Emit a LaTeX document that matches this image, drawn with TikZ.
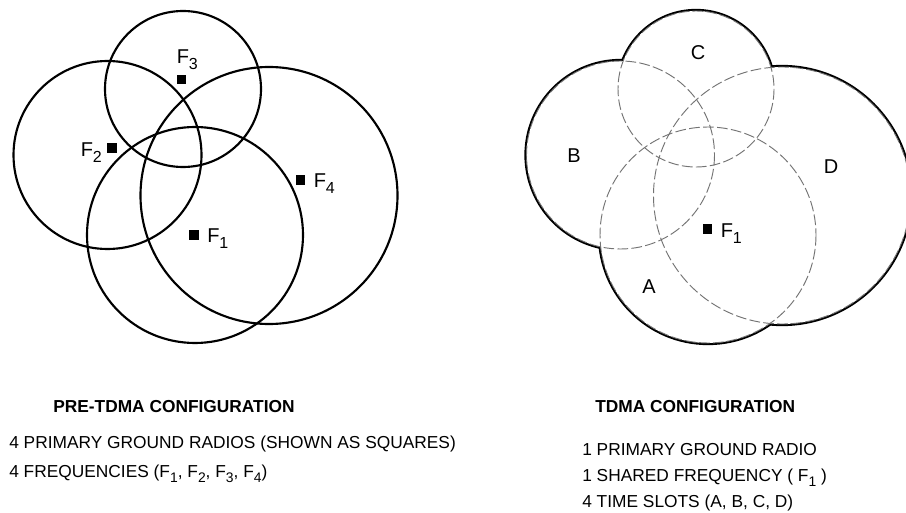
\documentclass[tikz,border=0pt]{standalone}
\usepackage{fontspec}
\setmainfont{Liberation Sans}
\usepackage{graphicx}
\usepackage{tikz}

\newcommand{\freq}[1]{F\raisebox{-0.55ex}{\scalebox{0.8}{#1}}}

\begin{document}
\begin{tikzpicture}[x=0.75pt, y=-0.75pt,
    cell/.style={line width=1.6pt},
    outline/.style={line width=3.2pt},
    slot/.style={line width=0.7pt, black!55, dash pattern=on 8pt off 2.5pt},
    radio/.style={fill=black, inner sep=0pt, minimum size=6.8pt},
    ftag/.style={font=\fontsize{15}{17}\selectfont, inner sep=0pt, anchor=base west},
    stag/.style={font=\fontsize{15}{17}\selectfont, inner sep=0pt},
    head/.style={font=\fontsize{13}{15}\selectfont\bfseries, inner sep=0pt, anchor=base west},
    note/.style={font=\fontsize{13}{15}\selectfont, inner sep=0pt, anchor=base west}]
  \useasboundingbox (0,0) rectangle (906,513);

  % pre-TDMA: four radios, four cells
  \foreach \cx/\cy/\r in {183/89/78, 107.5/155/94, 269/195.5/128.5, 195/235/108}
    \draw[cell] (\cx,\cy) circle (\r);
  \node[radio] (f1) at (194,235) {};
  \node[radio] (f2) at (112,148) {};
  \node[radio] (f3) at (181.5,79.5) {};
  \node[radio] (f4) at (300.5,180) {};
  \node[ftag] (f1tag) at (207,243) {\freq{1}};
  \node[ftag] (f2tag) at (80.5,157) {\freq{2}};
  \node[ftag] (f3tag) at (176.5,64) {\freq{3}};
  \node[ftag] (f4tag) at (313.5,188) {\freq{4}};

  % TDMA: one radio, outer boundary solid, slots dashed
  \begin{scope}[shift={(513,0)}]
    \foreach \cx/\cy/\r in {183/89/78, 107.5/155/94, 269/195.5/128.5, 195/235/108}
      \draw[outline] (\cx,\cy) circle (\r);
    \foreach \cx/\cy/\r in {183/89/78, 107.5/155/94, 269/195.5/128.5, 195/235/108}
      \fill[white] (\cx,\cy) circle (\r);
    \foreach \cx/\cy/\r in {183/89/78, 107.5/155/94, 269/195.5/128.5, 195/235/108}
      \draw[slot] (\cx,\cy) circle (\r);
  \end{scope}
  \node[radio] (shared) at (707.5,229) {};
  \node[ftag] (sharedtag) at (720.5,238) {\freq{1}};
  \node[stag] (slota) at (649,287) {A};
  \node[stag] (slotb) at (574,156) {B};
  \node[stag] (slotc) at (698,53) {C};
  \node[stag] (slotd) at (831,167) {D};

  % captions
  \node[head] (prehead) at (53,412) {PRE-TDMA CONFIGURATION};
  \node[note] (preone) at (9,448) {4 PRIMARY GROUND RADIOS (SHOWN AS SQUARES)};
  \node[note] (pretwo) at (9,477) {4 FREQUENCIES (\freq{1}, \freq{2}, \freq{3}, \freq{4})};
  \node[head] (tdmahead) at (595,412) {TDMA CONFIGURATION};
  \node[note] (tdmaone) at (582,455) {1 PRIMARY GROUND RADIO};
  \node[note] (tdmatwo) at (582,481) {1 SHARED FREQUENCY ( \freq{1} )};
  \node[note] (tdmathree) at (582,507) {4 TIME SLOTS (A, B, C, D)};
\end{tikzpicture}
\end{document}
